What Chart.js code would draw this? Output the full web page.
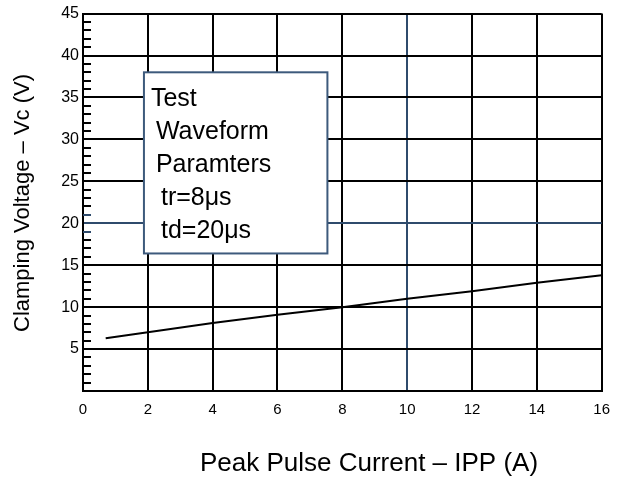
<!DOCTYPE html>
<html>
<head>
<meta charset="utf-8">
<script src="https://cdn.jsdelivr.net/npm/chart.js@4/dist/chart.umd.min.js"></script>
<style>
  html, body { margin: 0; padding: 0; background: #fff; }
  #wrap { width: 620px; height: 483px; position: relative; }
</style>
</head>
<body>
<div id="wrap"><canvas id="clampCanvas"></canvas></div>
<script>
// values
const currentA = [0.7, 2, 4, 6, 8, 10, 12, 14, 16];
const clampV = [6.3, 7.0, 8.1, 9.1, 10.0, 11.0, 11.9, 12.9, 13.8];
const xTicks = [0, 2, 4, 6, 8, 10, 12, 14, 16];
const yTicks = [5, 10, 15, 20, 25, 30, 35, 40, 45];
const noteLines = ['Test', ' Waveform', ' Paramters', '  tr=8\u03bcs', '  td=20\u03bcs'];
const noteBox = { x0: 1.88, x1: 7.54, y0: 38, y1: 16.4 };

(function () {
  'use strict';

  const FONT = '"Liberation Sans", Arial, sans-serif';
  const BLUE = '#2f4b6c';

  // minor ticks on the y axis, every 1 V, pointing inward
  const minorTicks = {
    id: 'minorTicks',
    beforeDatasetsDraw(chart) {
      const { ctx, scales: { x, y } } = chart;
      const x0 = x.getPixelForValue(0);
      ctx.save();
      ctx.lineWidth = 2;
      for (let v = 1; v < 45; v++) {
        if (v % 5 === 0) continue;
        const py = Math.round(y.getPixelForValue(v));
        ctx.strokeStyle = (v === 19 || v === 21) ? BLUE : '#000';
        ctx.beginPath();
        ctx.moveTo(x0, py);
        ctx.lineTo(x0 + 8, py);
        ctx.stroke();
      }
      ctx.restore();
    }
  };

  // note box + axis titles
  const noteAndTitles = {
    id: 'noteAndTitles',
    afterDraw(chart) {
      const { ctx, scales: { x, y } } = chart;
      const left = x.getPixelForValue(noteBox.x0);
      const right = x.getPixelForValue(noteBox.x1);
      const top = y.getPixelForValue(noteBox.y0);
      const bottom = y.getPixelForValue(noteBox.y1);
      ctx.save();
      ctx.fillStyle = '#fff';
      ctx.fillRect(left, top, right - left, bottom - top);
      ctx.strokeStyle = '#3d5a7c';
      ctx.lineWidth = 2;
      ctx.strokeRect(left, top, right - left, bottom - top);

      ctx.fillStyle = '#000';
      ctx.font = '25px ' + FONT;
      ctx.textBaseline = 'middle';
      ctx.textAlign = 'left';
      noteLines.forEach((t, i) => {
        const indent = t.length - t.trimStart().length;
        ctx.fillText(t.trim(), left + 7 + indent * 5, top + 27 + i * 33);
      });

      // x title
      ctx.font = '26px ' + FONT;
      ctx.textAlign = 'center';
      ctx.fillText('Peak Pulse Current \u2013 IPP (A)', 369, 464);

      // y title
      ctx.translate(23, 203);
      ctx.rotate(-Math.PI / 2);
      ctx.font = '22px ' + FONT;
      ctx.fillText('Clamping Voltage \u2013 Vc (V)', 0, 0);
      ctx.restore();
    }
  };

  new Chart(document.getElementById('clampCanvas'), {
    type: 'line',
    data: {
      datasets: [{
        data: currentA.map((c, i) => ({ x: c, y: clampV[i] })),
        borderColor: '#000',
        borderWidth: 2,
        pointRadius: 0,
        tension: 0,
        fill: false
      }]
    },
    options: {
      responsive: true,
      maintainAspectRatio: false,
      animation: false,
      layout: { padding: { left: 0, right: 16, top: 13, bottom: 0 } },
      plugins: { legend: { display: false }, tooltip: { enabled: false } },
      scales: {
        x: {
          type: 'linear',
          min: 0,
          max: 16,
          afterFit: s => { s.height = 92; },
          afterBuildTicks: s => { s.ticks = xTicks.map(v => ({ value: v })); },
          grid: {
            color: c => c.tick && c.tick.value === 10 ? BLUE : '#000',
            lineWidth: 2,
            drawTicks: false
          },
          border: { color: '#000', width: 2 },
          ticks: { color: '#000', font: { family: FONT, size: 15 }, padding: 10, maxRotation: 0 }
        },
        y: {
          min: 0,
          max: 45,
          afterFit: s => { s.width = 83; },
          afterBuildTicks: s => { s.ticks = [0].concat(yTicks).map(v => ({ value: v })); },
          grid: {
            color: c => c.tick && c.tick.value === 20 ? BLUE : '#000',
            lineWidth: 2,
            drawTicks: false
          },
          border: { color: '#000', width: 2 },
          ticks: {
            color: '#000',
            font: { family: FONT, size: 16 },
            padding: 4,
            callback: v => v === 0 ? '' : String(v)
          }
        }
      }
    },
    plugins: [minorTicks, noteAndTitles]
  });
})();
</script>
</body>
</html>
